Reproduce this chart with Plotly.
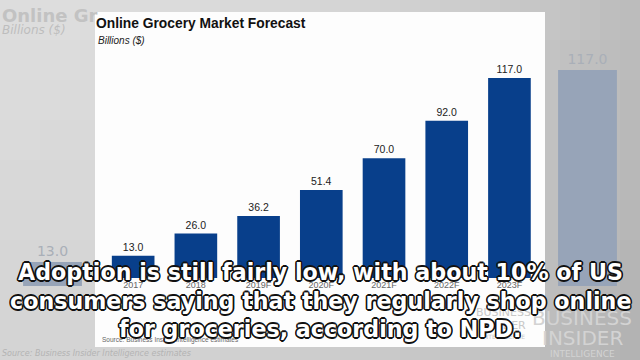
import plotly.graph_objects as go

# ---- data ----
years = ["2017", "2018", "2019F", "2020F", "2021F", "2022F", "2023F"]
values = [13.0, 26.0, 36.2, 51.4, 70.0, 92.0, 117.0]
ghost_values = [13.0, None, None, None, None, None, 117.0]  # blurred background copy (only edges visible)

title = "Online Grocery Market Forecast"
unit = "Billions ($)"
source = "Source: Business Insider Intelligence estimates"
subtitle_lines = [
    "Adoption is still fairly low, with about 10% of US",
    "consumers saying that they regularly shop online",
    "for groceries, according to NPD.",
]

W, H = 640, 360
def px(x):
    return x / W
def py(y):
    return 1 - y / H

fig = go.Figure()

# ghost (blurred enlarged background chart)
fig.add_trace(go.Bar(
    x=years, y=ghost_values, xaxis="x2", yaxis="y2", width=0.66,
    marker=dict(color="#97a4b8", line=dict(width=0)),
    text=[f"{v:.1f}" if v is not None else "" for v in ghost_values],
    textposition="outside", cliponaxis=False,
    textfont=dict(family="DejaVu Sans", size=14, color="#a9afb8"),
    showlegend=False, hoverinfo="skip",
))

# main chart
fig.add_trace(go.Bar(
    x=years, y=values, width=0.68,
    marker=dict(color="#083f8b", line=dict(width=0)),
    text=[f"{v:.1f}" for v in values],
    textposition="outside", cliponaxis=False,
    textfont=dict(family="Liberation Sans", size=10.5, color="#222222"),
    showlegend=False, hoverinfo="skip",
))

shapes = []
# background gradient (grey, darker toward right)
nx, ny = 32, 9
for i in range(nx):
    for j in range(ny):
        xc = (i + 0.5) / nx
        yc = (j + 0.5) / ny  # from top
        c = int(222 - 34 * xc ** 2.2 - 10 * yc)
        col = f"rgb({c},{c},{c})"
        shapes.append(dict(type="rect", xref="paper", yref="paper", layer="below",
                           x0=i / nx, x1=(i + 1) / nx, y0=1 - (j + 1) / ny, y1=1 - j / ny,
                           fillcolor=col, line=dict(width=0)))
# white chart panel
shapes.append(dict(type="rect", xref="paper", yref="paper", layer="below",
                   x0=px(95), x1=px(545), y0=py(347), y1=py(12),
                   fillcolor="#fdfdfd", line=dict(width=0)))

ann = []
# ghost texts
ann.append(dict(text="<b>Online Gr</b>", x=px(0), y=py(16), xref="paper", yref="paper",
                xanchor="left", yanchor="middle", showarrow=False,
                font=dict(family="DejaVu Sans", size=18, color="#c2c2c2")))
ann.append(dict(text="<i>" + unit + "</i>", x=px(0), y=py(30), xref="paper", yref="paper",
                xanchor="left", yanchor="middle", showarrow=False,
                font=dict(family="DejaVu Sans", size=12, color="#bdbdbd")))
ann.append(dict(text="<i>" + source + "</i>", x=px(0), y=py(353), xref="paper", yref="paper",
                xanchor="left", yanchor="middle", showarrow=False,
                font=dict(family="DejaVu Sans", size=8, color="#b3b3b3")))
for txt, yy, sz in [("BUSINESS", 318, 20), ("INSIDER", 338, 20), ("INTELLIGENCE", 354, 9)]:
    ann.append(dict(text=txt, x=px(582), y=py(yy), xref="paper", yref="paper",
                    xanchor="center", yanchor="middle", showarrow=False,
                    font=dict(family="DejaVu Sans", size=sz, color="#d3d3d3")))
for txt, yy, sz in [("BUSINESS", 312, 11), ("INSIDER", 325, 11), ("INTELLIGENCE", 336, 6)]:
    ann.append(dict(text=txt, x=px(503), y=py(yy), xref="paper", yref="paper",
                    xanchor="center", yanchor="middle", showarrow=False,
                    font=dict(family="DejaVu Sans", size=sz, color="#c8c8c8")))

# panel title
ann.append(dict(text="<b>" + title + "</b>", x=px(94), y=py(23), xref="paper", yref="paper",
                xanchor="left", yanchor="middle", showarrow=False,
                font=dict(family="Liberation Sans", size=13.8, color="#111111")))
ann.append(dict(text="<i>" + unit + "</i>", x=px(96), y=py(40), xref="paper", yref="paper",
                xanchor="left", yanchor="middle", showarrow=False,
                font=dict(family="Liberation Sans", size=10, color="#222222")))
ann.append(dict(text=source, x=px(100), y=py(340), xref="paper", yref="paper",
                xanchor="left", yanchor="middle", showarrow=False,
                font=dict(family="Liberation Sans", size=6.5, color="#666666")))

# subtitle with outline
o = "#111111"
outline = ", ".join(f"{dx}px {dy}px 0 {o}" for dx, dy in
                    [(-1.6, 0), (1.6, 0), (0, -1.6), (0, 1.6), (-1.2, -1.2), (1.2, -1.2), (-1.2, 1.2), (1.2, 1.2)])
for k, line in enumerate(subtitle_lines):
    ann.append(dict(text="<b>" + line + "</b>", x=0.5, y=py(272 + 28.5 * k), xref="paper", yref="paper",
                    xanchor="center", yanchor="middle", showarrow=False,
                    font=dict(family="DejaVu Sans", size=22.2, color="#ffffff", shadow=outline)))

fig.update_layout(
    width=W, height=H,
    margin=dict(l=0, r=0, t=0, b=0),
    paper_bgcolor="#d4d4d4", plot_bgcolor="rgba(0,0,0,0)",
    shapes=shapes, annotations=ann,
    xaxis=dict(domain=[px(101.8), px(540.8)], range=[-0.5, 6.5], showgrid=False, zeroline=False,
               showline=False, ticks="", tickfont=dict(family="Liberation Sans", size=9, color="#666666")),
    yaxis=dict(domain=[py(278), py(55.7)], range=[0, 130], visible=False),
    xaxis2=dict(domain=[0, 1], range=[-0.589, 6.589], anchor="y2", visible=False),
    yaxis2=dict(domain=[0, 1], range=[-40.1, 154.9], anchor="x2", visible=False),
)

fig.write_html("out.html", config={"displayModeBar": False},
               post_script="document.body.style.margin='0';document.body.style.overflow='hidden';")
